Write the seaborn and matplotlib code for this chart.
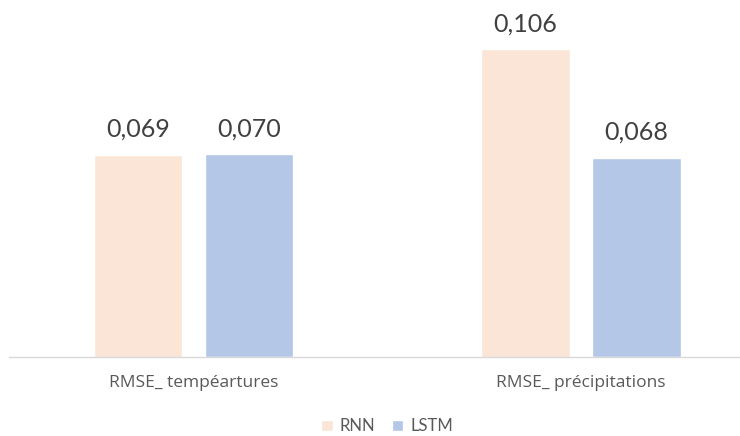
import pandas as pd
import matplotlib
matplotlib.use('Agg')
import matplotlib.pyplot as plt
import seaborn as sns

# Data (labels are shown rounded to 3 decimals)
metrics = ['RMSE_ tempéartures', 'RMSE_ précipitations']
models = ['RNN', 'LSTM']
rnn_values = [0.0694, 0.1056]
lstm_values = [0.0696, 0.0684]
colors = {'RNN': '#FBE5D6', 'LSTM': '#B4C7E7'}

df = pd.DataFrame({
    'metric': metrics * 2,
    'model': ['RNN'] * len(metrics) + ['LSTM'] * len(metrics),
    'value': rnn_values + lstm_values,
})

sns.set_theme(style='white')
plt.rcParams['font.family'] = ['Lato', 'DejaVu Sans']
text_color = '#595959'

fig = plt.figure(figsize=(7.4, 4.36), dpi=100)
ax = fig.add_axes([0.012, 0.181, 0.988, 0.803])

sns.barplot(data=df, x='metric', y='value', hue='model', hue_order=models,
            palette=colors, width=0.573, gap=0.204, ax=ax, saturation=1,
            legend=True)

for container in ax.containers:
    labels = [f'{v:.3f}'.replace('.', ',') for v in container.datavalues]
    ax.bar_label(container, labels=labels, padding=10, fontsize=18, color='#404040')

ax.set_xlim(-0.477, 1.41)
ax.set_ylim(0, 0.12)
ax.set_xlabel('')
ax.set_ylabel('')
ax.set_yticks([])
ax.tick_params(axis='x', labelsize=12, colors=text_color, length=0, pad=13)
for lbl in ax.get_xticklabels():
    lbl.set_family(['Open Sans', 'DejaVu Sans'])
    lbl.set_fontsize(12.5)
for side in ['top', 'left', 'right']:
    ax.spines[side].set_visible(False)
ax.spines['bottom'].set_color('#D9D9D9')
ax.spines['bottom'].set_linewidth(1)

handles, labels = ax.get_legend_handles_labels()
ax.legend_.remove()
fig.legend(handles, labels, loc='center', bbox_to_anchor=(0.523, 0.022), ncol=2,
           frameon=False, fontsize=12, handlelength=0.7, handleheight=0.7,
           handletextpad=0.4, columnspacing=1.0, labelcolor=text_color)

fig.savefig('out.png', dpi=100)
